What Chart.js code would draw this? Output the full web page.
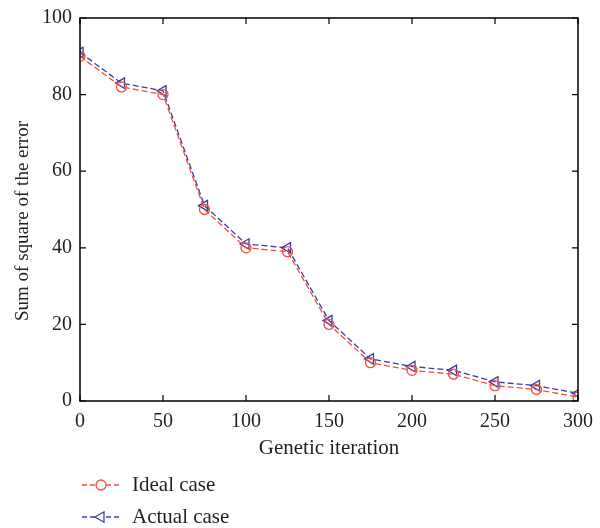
<!DOCTYPE html>
<html>
<head>
<meta charset="utf-8">
<script src="https://cdn.jsdelivr.net/npm/chart.js@4.4.0/dist/chart.umd.min.js"></script>
<style>
  html, body { margin: 0; padding: 0; background: #fff; }
  #wrap { width: 600px; height: 528px; position: relative; }
</style>
</head>
<body>
<div id="wrap"><canvas id="chart" width="600" height="528"></canvas></div>
<script>
// data
var iterations = [0, 25, 50, 75, 100, 125, 150, 175, 200, 225, 250, 275, 300];
var ideal_case = [90, 82, 80, 50, 40, 39, 20, 10, 8, 7, 4, 3, 1];
var actual_case = [91, 83, 81, 51, 41, 40, 21, 11, 9, 8, 5, 4, 2];
var x_ticks = [0, 50, 100, 150, 200, 250, 300];
var y_ticks = [0, 20, 40, 60, 80, 100];

var red = '#f0503c';
var blue = '#3c3ca0';
var ink = '#231f20';
var serif = "'Liberation Serif', 'DejaVu Serif', serif";

function pairs(xs, ys){
    var out = [];
    for(var i = 0; i < xs.length; i++){
        out.push({x: xs[i], y: ys[i]});
    }
    return out;
}

// frame, inward ticks, y title and the legend below the axis
var framePlugin = {
    id: 'frame',
    afterDraw: function(chart){
        var ctx = chart.ctx;
        var a = chart.chartArea;
        var xs = chart.scales.x, ys = chart.scales.y;
        ctx.save();
        ctx.strokeStyle = '#000';
        ctx.lineWidth = 1.5;
        ctx.strokeRect(a.left, a.top, a.right - a.left, a.bottom - a.top);
        ctx.lineWidth = 1.2;
        var len = 6;
        ctx.beginPath();
        x_ticks.forEach(function(v){
            var px = xs.getPixelForValue(v);
            ctx.moveTo(px, a.bottom); ctx.lineTo(px, a.bottom - len);
            ctx.moveTo(px, a.top); ctx.lineTo(px, a.top + len);
        });
        y_ticks.forEach(function(v){
            var py = ys.getPixelForValue(v);
            ctx.moveTo(a.left, py); ctx.lineTo(a.left + len, py);
            ctx.moveTo(a.right, py); ctx.lineTo(a.right - len, py);
        });
        ctx.stroke();

        // y axis title, sits a little below the middle in the reference
        ctx.save();
        ctx.translate(23, 221);
        ctx.rotate(-Math.PI / 2);
        ctx.fillStyle = ink;
        ctx.font = '19px ' + serif;
        ctx.textAlign = 'center';
        ctx.textBaseline = 'middle';
        ctx.fillText('Sum of square of the error', 0, 0);
        ctx.restore();

        // legend
        var rows = [485, 517];
        chart.data.datasets.forEach(function(ds, i){
            var y = rows[i];
            ctx.strokeStyle = ds.borderColor;
            ctx.lineWidth = 1.3;
            ctx.setLineDash([5, 3]);
            ctx.beginPath();
            ctx.moveTo(82, y); ctx.lineTo(122, y);
            ctx.stroke();
            ctx.setLineDash([]);
            ctx.fillStyle = '#fff';
            ctx.strokeStyle = ds.pointBorderColor;
            Chart.helpers.drawPoint(ctx, {
                pointStyle: ds.pointStyle,
                radius: ds.pointRadius,
                rotation: ds.pointRotation || 0,
                borderWidth: 1.3
            }, 101, y);
            ctx.fillStyle = ink;
            ctx.font = '21px ' + serif;
            ctx.textBaseline = 'middle';
            ctx.textAlign = 'left';
            ctx.fillText(ds.label, 132, y);
        });
        ctx.restore();
    }
};

var context = document.getElementById('chart').getContext('2d');
var myChart = new Chart(context, {
    type: 'line',
    data: {
        datasets: [{
            label: 'Ideal case',
            data: pairs(iterations, ideal_case),
            borderColor: red,
            backgroundColor: 'rgba(0,0,0,0)',
            borderWidth: 1.3,
            borderDash: [6, 3],
            pointStyle: 'circle',
            pointRadius: 5,
            pointBorderWidth: 1.3,
            pointBackgroundColor: 'rgba(0,0,0,0)',
            pointBorderColor: red
        }, {
            label: 'Actual case',
            data: pairs(iterations, actual_case),
            borderColor: blue,
            backgroundColor: 'rgba(0,0,0,0)',
            borderWidth: 1.3,
            borderDash: [6, 3],
            pointStyle: 'triangle',
            pointRotation: -90,
            pointRadius: 6,
            pointBorderWidth: 1.3,
            pointBackgroundColor: 'rgba(0,0,0,0)',
            pointBorderColor: blue
        }]
    },
    options: {
        responsive: false,
        animation: false,
        events: [],
        layout: { padding: { left: 0, right: 22, top: 18, bottom: 63 } },
        plugins: { legend: { display: false }, tooltip: { enabled: false } },
        scales: {
            x: {
                type: 'linear',
                min: 0, max: 300,
                afterBuildTicks: function(scale){
                    scale.ticks = x_ticks.map(function(v){ return {value: v}; });
                },
                afterFit: function(scale){
                    scale.height = 64;
                    scale.paddingLeft = 0;
                    scale.paddingRight = 0;
                },
                grid: { display: false, drawTicks: false },
                border: { display: false },
                ticks: { color: ink, padding: 9, maxRotation: 0, font: { family: serif, size: 20 } },
                title: { display: true, text: 'Genetic iteration', color: ink, padding: { top: 7 }, font: { family: serif, size: 21 } }
            },
            y: {
                type: 'linear',
                min: 0, max: 100,
                afterBuildTicks: function(scale){
                    scale.ticks = y_ticks.map(function(v){ return {value: v}; });
                },
                afterFit: function(scale){
                    scale.width = 80;
                    scale.paddingTop = 0;
                    scale.paddingBottom = 0;
                },
                grid: { display: false, drawTicks: false },
                border: { display: false },
                ticks: { color: ink, padding: 8, font: { family: serif, size: 20 } },
                title: { display: false }
            }
        }
    },
    plugins: [framePlugin]
});
</script>
</body>
</html>
